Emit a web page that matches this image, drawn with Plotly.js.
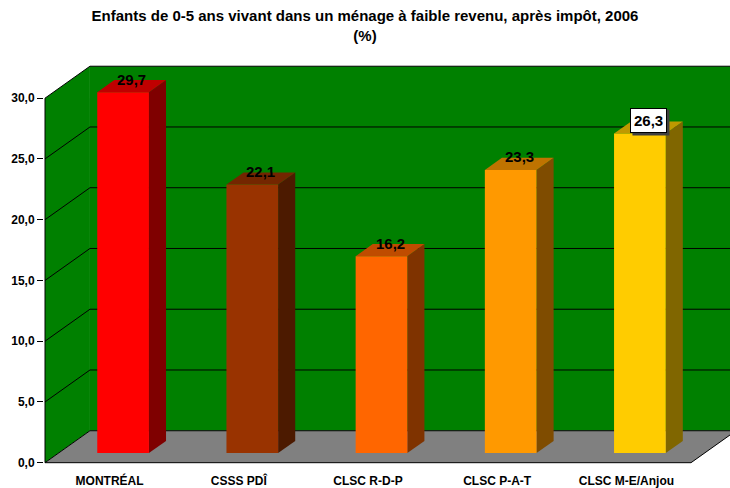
<!DOCTYPE html>
<html>
<head>
<meta charset="utf-8">
<script src="https://cdn.plot.ly/plotly-3.0.1.min.js"></script>
<style>html,body{margin:0;padding:0;background:#fff}#chart{width:730px;height:488px}</style>
</head>
<body>
<div id="chart"></div>
<script>
// ---- data ----
const categories = ['MONTRÉAL', 'CSSS PDÎ', 'CLSC R-D-P', 'CLSC P-A-T', 'CLSC M-E/Anjou'];
const values = [29.7, 22.1, 16.2, 23.3, 26.3];
const frontColors = ['#FF0000', '#993300', '#FF6600', '#FF9900', '#FFCC00'];
const sideColors = ['#7F0000', '#4C1A00', '#7F3300', '#7F4C00', '#806600'];
const topColors = ['#BF0000', '#732600', '#BF4C00', '#BF7300', '#BF9900'];
const yTicks = [0, 5, 10, 15, 20, 25, 30];
const highlightedCategory = 'CLSC M-E/Anjou';

// ---- 3D geometry (in axis units) ----
const DX = 0.348, DY = 2.63;       // full depth offset
const D1 = 0.30, D2 = 0.68;        // bar depth span (fraction of depth)
const BW = 0.40;                   // bar width
const n = categories.length;
const yMax = yTicks[yTicks.length - 1];
const P = (x, y, d) => [x + d * DX, y + d * DY];

const traces = [];
function poly(pts, color) {
  const xs = pts.map(p => p[0]), ys = pts.map(p => p[1]);
  xs.push(xs[0]); ys.push(ys[0]);
  traces.push({type: 'scatter', mode: 'lines', x: xs, y: ys, fill: 'toself',
    fillcolor: color, line: {width: 0, color: color}, hoverinfo: 'skip', showlegend: false});
}
function lines(segs, color, w) {
  const xs = [], ys = [];
  segs.forEach(s => { s.forEach(p => { xs.push(p[0]); ys.push(p[1]); }); xs.push(null); ys.push(null); });
  traces.push({type: 'scatter', mode: 'lines', x: xs, y: ys, connectgaps: false,
    line: {width: w, color: color}, hoverinfo: 'skip', showlegend: false});
}

// walls
poly([P(0, 0, 0), P(0, 0, 1), P(0, yMax, 1), P(0, yMax, 0)], '#008000');           // side wall
poly([P(0, 0, 1), P(n + 1, 0, 1), P(n + 1, yMax, 1), P(0, yMax, 1)], '#008000');   // back wall
poly([P(0, 0, 0), P(n, 0, 0), P(n, 0, 1), P(0, 0, 1)], '#808080');                 // floor

// gridlines
lines(yTicks.map(v => [P(0, v, 0), P(0, v, 1), P(n + 1, v, 1)]), '#000000', 1);
// floor front edge, right edge, front-left axis
lines([[P(0, 0, 0), P(n, 0, 0), P(n, 0, 1)], [P(0, 0, 0), P(0, yMax, 0)]], '#000000', 1);

// bars
values.forEach((v, i) => {
  const c = i + 0.5, l = c - BW / 2, r = c + BW / 2;
  poly([P(r, 0, D1), P(r, 0, D2), P(r, v, D2), P(r, v, D1)], sideColors[i]);
  poly([P(l, v, D1), P(r, v, D1), P(r, v, D2), P(l, v, D2)], topColors[i]);
  poly([P(l, 0, D1), P(r, 0, D1), P(r, v, D1), P(l, v, D1)], frontColors[i]);
});

// labels
const fmt = v => v.toFixed(1).replace('.', ',');
const DM = (D1 + D2) / 2;
const labelFont = {family: 'Liberation Sans, Arial, sans-serif', size: 15, weight: 'bold', color: '#000'};
const annotations = [];
const shapes = [];
values.forEach((v, i) => {
  const pos = P(i + 0.5, v, DM);
  const boxed = categories[i] === highlightedCategory;
  const base = {x: pos[0], y: pos[1], xref: 'x', yref: 'y', showarrow: false,
    yanchor: 'middle', xanchor: 'center', yshift: 7, text: fmt(v), font: labelFont};
  if (boxed) {
    // drop shadow behind the label box
    shapes.push({type: 'rect', xref: 'x', yref: 'y', xsizemode: 'pixel', ysizemode: 'pixel',
      xanchor: pos[0], yanchor: pos[1], x0: -16, x1: 21, y0: -8, y1: 18,
      fillcolor: '#404040', line: {width: 0}, layer: 'above'});
    annotations.push(Object.assign({}, base, {
      bgcolor: '#ffffff', bordercolor: '#000000', borderwidth: 1, borderpad: 3}));
  } else {
    annotations.push(base);
  }
});

const xRange = [-0.00774, 5.3018];
const yRange = [-0.107, 32.73];
const tickFont = {family: 'Liberation Sans, Arial, sans-serif', size: 12, weight: 'bold', color: '#000'};

const layout = {
  width: 730, height: 488,
  margin: {l: 44, r: 0, t: 65, b: 24},
  paper_bgcolor: '#ffffff', plot_bgcolor: '#ffffff',
  separators: ', ',
  showlegend: false,
  title: {
    text: 'Enfants de 0-5 ans vivant dans un ménage à faible revenu, après impôt, 2006<br>(%)',
    font: {family: 'Liberation Sans, Arial, sans-serif', size: 15, weight: 'bold', color: '#000'},
    x: 0.5, xanchor: 'center', y: 0.956, yanchor: 'top'
  },
  xaxis: {
    range: xRange, fixedrange: true,
    tickmode: 'array', tickvals: categories.map((c, i) => i + 0.5), ticktext: categories,
    ticks: 'outside', ticklen: 6, tickcolor: 'rgba(0,0,0,0)',
    showgrid: false, zeroline: false, showline: false, tickfont: tickFont
  },
  xaxis2: {
    range: xRange, overlaying: 'x', anchor: 'y', fixedrange: true,
    tickmode: 'array', tickvals: categories.map((c, i) => i).concat([n]),
    ticks: 'outside', ticklen: 6, tickcolor: '#000', tickwidth: 1,
    showticklabels: false, showgrid: false, zeroline: false, showline: false
  },
  yaxis: {
    range: yRange, fixedrange: true,
    tickmode: 'array', tickvals: yTicks, tickformat: '.1f',
    ticks: 'outside', ticklen: 6, tickcolor: '#000', tickwidth: 1,
    showgrid: false, zeroline: false, showline: false, tickfont: tickFont
  },
  shapes: shapes,
  annotations: annotations
};

Plotly.newPlot('chart', traces, layout, {displayModeBar: false, staticPlot: true});
</script>
</body>
</html>
